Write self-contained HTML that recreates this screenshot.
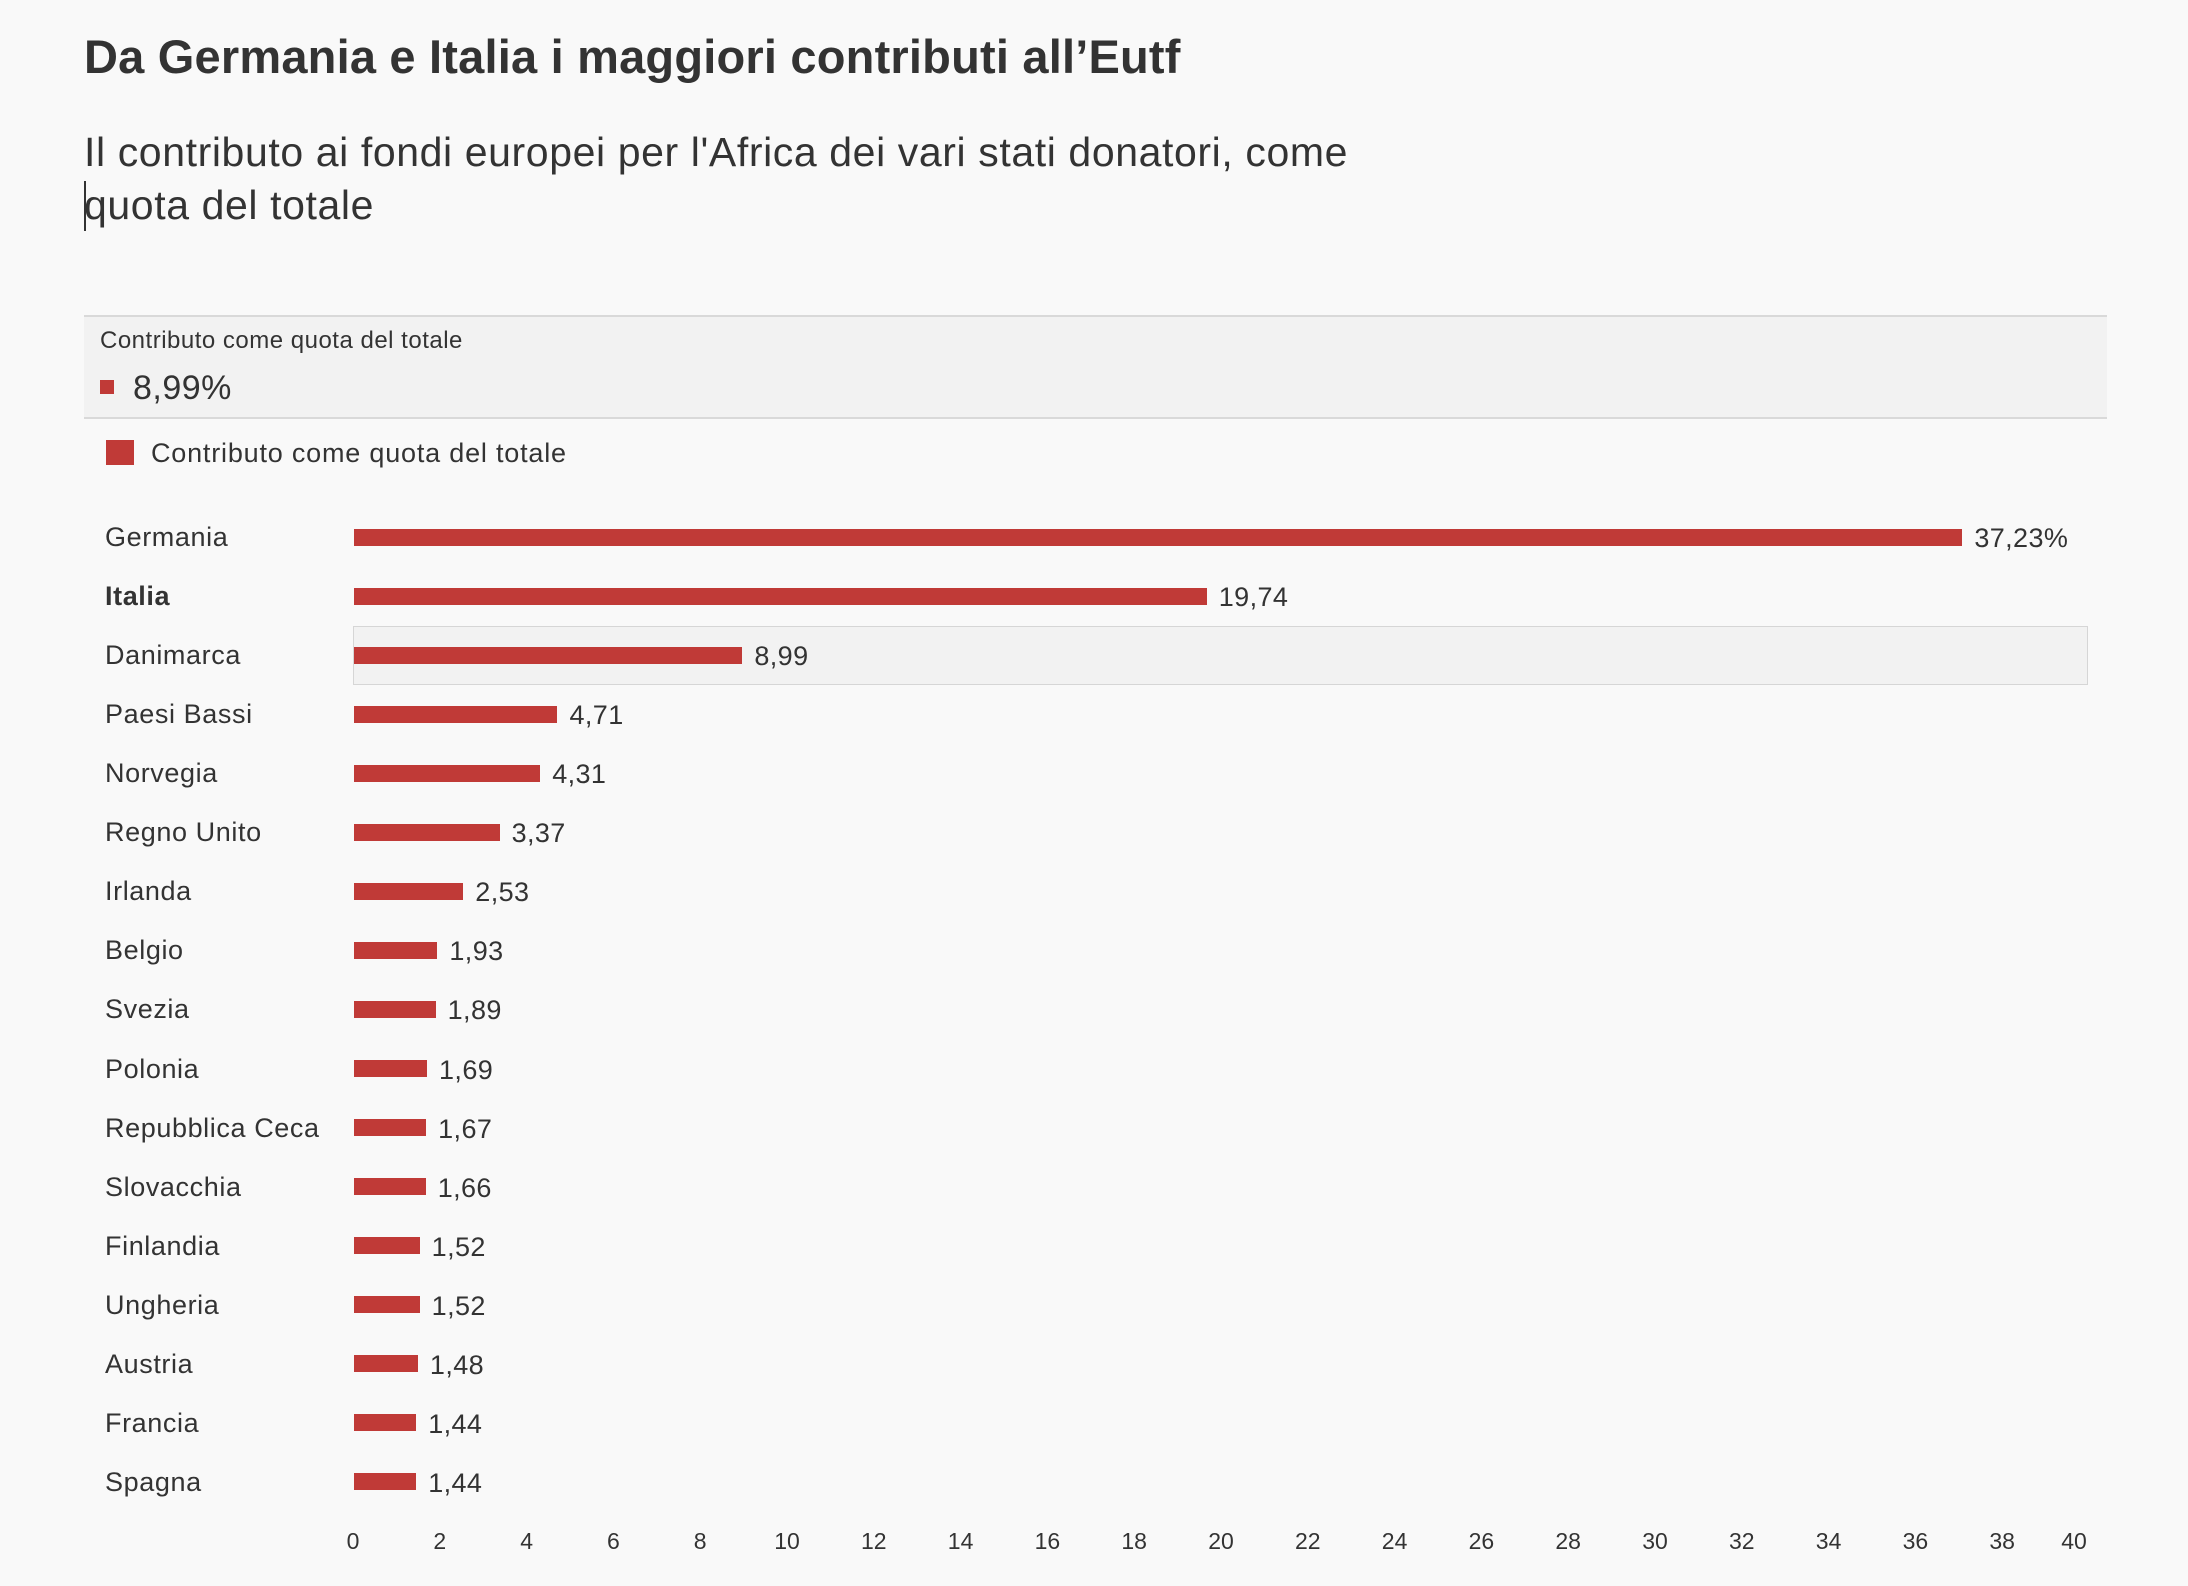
<!DOCTYPE html>
<html><head><meta charset="utf-8"><style>
html,body{margin:0;padding:0;}
body{width:2188px;height:1586px;background:#f9f9f9;position:relative;overflow:hidden;font-family:"Liberation Sans",sans-serif;color:#333;}
.a{position:absolute;white-space:nowrap;}
.lbl{position:absolute;left:105px;font-size:27px;line-height:30px;letter-spacing:0.6px;}
.bar{position:absolute;left:354px;height:17px;background:#c03a37;}
.val{position:absolute;font-size:27px;line-height:30px;letter-spacing:0.4px;}
.tk{position:absolute;top:1528px;font-size:23px;width:60px;text-align:center;}
</style></head><body>
<div class="a" style="left:84px;top:29px;font-size:47px;font-weight:bold;letter-spacing:0.2px;color:#333;">Da Germania e Italia i maggiori contributi all’Eutf</div>
<div class="a" style="left:84px;top:126px;font-size:41px;line-height:53px;letter-spacing:0.6px;color:#333;">Il contributo ai fondi europei per l'Africa dei vari stati donatori, come<br>quota del totale</div>
<div class="a" style="left:84px;top:181px;width:2px;height:50px;background:#333;"></div>
<div class="a" style="left:84px;top:315px;width:2023px;height:100px;background:#f2f2f2;border-top:2px solid #d9d9d9;border-bottom:2px solid #d9d9d9;"></div>
<div class="a" style="left:100px;top:327px;font-size:24px;letter-spacing:0.5px;">Contributo come quota del totale</div>
<div class="a" style="left:100px;top:380px;width:14px;height:14px;background:#c03a37;"></div>
<div class="a" style="left:133px;top:369px;font-size:34px;letter-spacing:0.5px;">8,99%</div>
<div class="a" style="left:106px;top:440px;width:28px;height:25px;background:#c03a37;"></div>
<div class="a" style="left:151px;top:438px;font-size:27px;letter-spacing:0.8px;">Contributo come quota del totale</div>
<div class="a" style="left:353px;top:626px;width:1733px;height:57px;background:#f2f2f2;border:1px solid #d6d6d6;"></div>
<div id="rows"></div>
<script>
var d=[["Germania",37.23,"37,23%"],["Italia",19.74,"19,74"],["Danimarca",8.99,"8,99"],["Paesi Bassi",4.71,"4,71"],["Norvegia",4.31,"4,31"],["Regno Unito",3.37,"3,37"],["Irlanda",2.53,"2,53"],["Belgio",1.93,"1,93"],["Svezia",1.89,"1,89"],["Polonia",1.69,"1,69"],["Repubblica Ceca",1.67,"1,67"],["Slovacchia",1.66,"1,66"],["Finlandia",1.52,"1,52"],["Ungheria",1.52,"1,52"],["Austria",1.48,"1,48"],["Francia",1.44,"1,44"],["Spagna",1.44,"1,44"]];
var h="";
for(var i=0;i<d.length;i++){var c=537+i*59.06;var w=d[i][1]*43.2;
h+='<div class="lbl" style="top:'+(c-15)+'px;'+(i==1?'font-weight:bold;':'')+'">'+d[i][0]+'</div>';
h+='<div class="bar" style="top:'+(c-8.5)+'px;width:'+w+'px"></div>';
h+='<div class="val" style="left:'+(354+w+12)+'px;top:'+(c-14)+'px">'+d[i][2]+'</div>';}
for(var t=0;t<=40;t+=2){var x=353+t*43.4;if(t==40)x=2074;h+='<div class="tk" style="left:'+(x-30)+'px">'+t+'</div>';}
document.getElementById("rows").innerHTML=h;
</script>
</body></html>
